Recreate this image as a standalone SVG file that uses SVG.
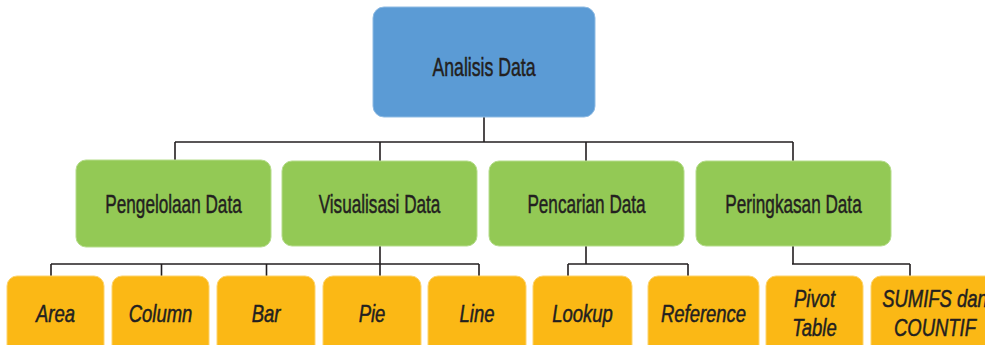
<svg xmlns="http://www.w3.org/2000/svg" width="985" height="345" viewBox="0 0 985 345">
<style>
.blue{fill:#5b9bd5;stroke:#8fbbe3;stroke-width:1}
.green{fill:#93c955;stroke:#b5dc8b;stroke-width:1}
.yellow{fill:#fbb815;stroke:#fdd36c;stroke-width:1}
.t{font-family:"Liberation Sans",Arial,sans-serif;font-size:26px;fill:#231f20;stroke:#231f20;stroke-width:0.5;text-anchor:middle}
.i{font-style:italic;font-size:24px}
.c{fill:none;stroke:#231f20;stroke-width:1.6}
</style>
<rect width="985" height="345" fill="#ffffff"/>
<g id="connectors">
<path class="c" d="M484,117V142M175,142H793M175,142V161M380,142V161M586,142V161M793,142V161"/>
<path class="c" d="M380,246V264M51,264H479M51,264V276M161.5,264V276M266.5,264V276M380,264V276M479,264V276"/>
<path class="c" d="M586,246V264M568,264H688M568,264V276M688,264V276"/>
<path class="c" d="M793,246V264M792,264H910M910,264V276"/>
</g>
<g id="analisis-data"><rect class="blue" x="373" y="7" width="222" height="110" rx="11"/><text class="t" transform="translate(484,76) scale(0.68,1)">Analisis Data</text></g>
<g id="pengelolaan-data"><rect class="green" x="76" y="160" width="195" height="87" rx="10"/><text class="t" transform="translate(173.5,213) scale(0.66,1)">Pengelolaan Data</text></g>
<g id="visualisasi-data"><rect class="green" x="282" y="161" width="195" height="85" rx="10"/><text class="t" transform="translate(379.5,213) scale(0.66,1)">Visualisasi Data</text></g>
<g id="pencarian-data"><rect class="green" x="489" y="161" width="195" height="85" rx="10"/><text class="t" transform="translate(586.5,213) scale(0.66,1)">Pencarian Data</text></g>
<g id="peringkasan-data"><rect class="green" x="696" y="161" width="195" height="85" rx="10"/><text class="t" transform="translate(793.5,213) scale(0.66,1)">Peringkasan Data</text></g>
<g id="area"><rect class="yellow" x="7" y="276" width="97" height="80" rx="10"/><text class="t i" transform="translate(55.5,321.5) scale(0.77,1)">Area</text></g>
<g id="column"><rect class="yellow" x="112" y="276" width="97" height="80" rx="10"/><text class="t i" transform="translate(160.5,321.5) scale(0.77,1)">Column</text></g>
<g id="bar"><rect class="yellow" x="217" y="276" width="98" height="80" rx="10"/><text class="t i" transform="translate(266,321.5) scale(0.77,1)">Bar</text></g>
<g id="pie"><rect class="yellow" x="323" y="276" width="98" height="80" rx="10"/><text class="t i" transform="translate(372,321.5) scale(0.77,1)">Pie</text></g>
<g id="line"><rect class="yellow" x="428" y="276" width="98" height="80" rx="10"/><text class="t i" transform="translate(477,321.5) scale(0.77,1)">Line</text></g>
<g id="lookup"><rect class="yellow" x="533" y="276" width="99" height="80" rx="10"/><text class="t i" transform="translate(582.5,321.5) scale(0.77,1)">Lookup</text></g>
<g id="reference"><rect class="yellow" x="648" y="276" width="111" height="80" rx="10"/><text class="t i" transform="translate(703.5,321.5) scale(0.77,1)">Reference</text></g>
<g id="pivot-table"><rect class="yellow" x="766" y="276" width="97" height="80" rx="10"/><text class="t i" transform="translate(814.5,306.5) scale(0.77,1)">Pivot</text><text class="t i" transform="translate(814.5,336) scale(0.77,1)">Table</text></g>
<g id="sumifs-countif"><rect class="yellow" x="871" y="276" width="128" height="80" rx="10"/><text class="t i" transform="translate(935,306.5) scale(0.77,1)">SUMIFS dan</text><text class="t i" transform="translate(935,336) scale(0.77,1)">COUNTIF</text></g>
</svg>
